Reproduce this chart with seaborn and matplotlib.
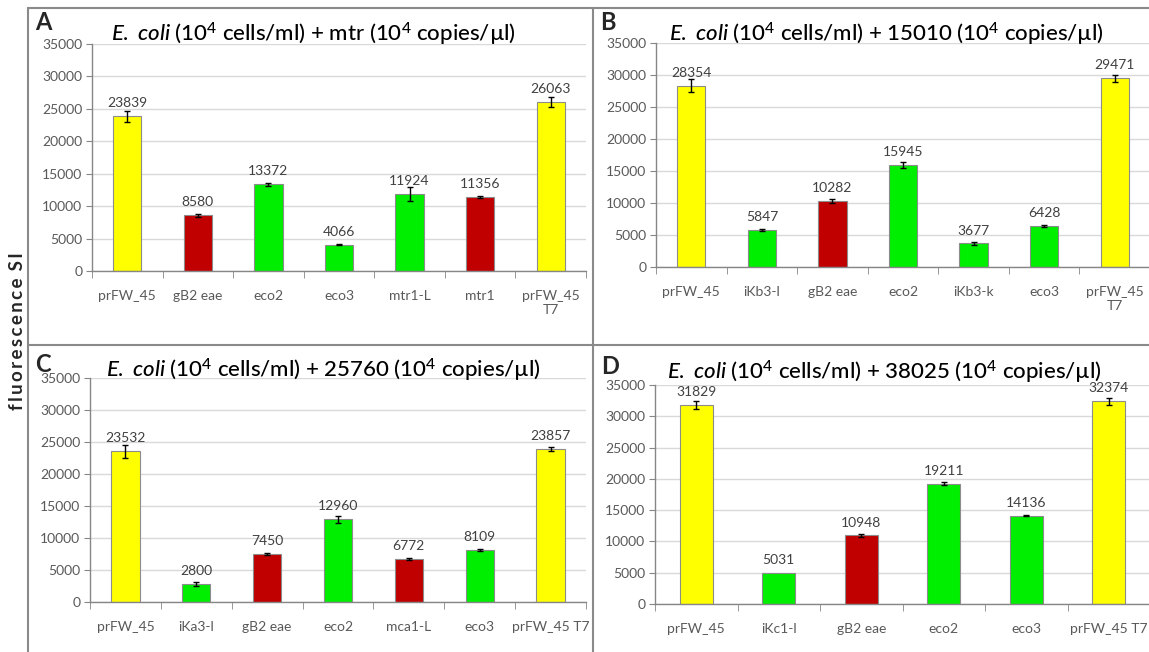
import numpy as np
import matplotlib
matplotlib.use("Agg")
import matplotlib.pyplot as plt
import seaborn as sns
from matplotlib.lines import Line2D
from matplotlib.container import BarContainer

# bar colours: yellow controls, green probes, red probes
COLORS = {"ctrl": "#ffff00", "green": "#00ee00", "red": "#c00000"}

# panel A: E. coli + mtr
a_labels = ["prFW_45", "gB2 eae", "eco2", "eco3", "mtr1-L", "mtr1", "prFW_45\nT7"]
a_values = [23839, 8580, 13372, 4066, 11924, 11356, 26063]
a_errors = [900, 250, 250, 80, 1100, 150, 700]
a_kinds = ["ctrl", "red", "green", "green", "green", "red", "ctrl"]

# panel B: E. coli + 15010
b_labels = ["prFW_45", "iKb3-l", "gB2 eae", "eco2", "iKb3-k", "eco3", "prFW_45\nT7"]
b_values = [28354, 5847, 10282, 15945, 3677, 6428, 29471]
b_errors = [1000, 150, 350, 450, 200, 150, 600]
b_kinds = ["ctrl", "green", "red", "green", "green", "green", "ctrl"]

# panel C: E. coli + 25760
c_labels = ["prFW_45", "iKa3-l", "gB2 eae", "eco2", "mca1-L", "eco3", "prFW_45 T7"]
c_values = [23532, 2800, 7450, 12960, 6772, 8109, 23857]
c_errors = [1000, 350, 150, 550, 150, 200, 300]
c_kinds = ["ctrl", "green", "red", "green", "red", "green", "ctrl"]

# panel D: E. coli + 38025
d_labels = ["prFW_45", "iKc1-l", "gB2 eae", "eco2", "eco3", "prFW_45 T7"]
d_values = [31829, 5031, 10948, 19211, 14136, 32374]
d_errors = [600, 0, 300, 250, 100, 600]
d_kinds = ["ctrl", "green", "red", "green", "green", "ctrl"]

titles = ["mtr", "15010", "25760", "38025"]
letters = ["A", "B", "C", "D"]

W, H = 1149, 652

sns.set_style("white")
plt.rcParams["font.family"] = ["Lato", "DejaVu Sans"]
plt.rcParams["mathtext.fontset"] = "custom"
plt.rcParams["mathtext.rm"] = "Lato:medium"
plt.rcParams["mathtext.it"] = "Lato:italic:medium"
plt.rcParams["mathtext.bf"] = "Lato:bold"

fig = plt.figure(figsize=(W / 100, H / 100), dpi=100)

# plot areas in pixels: left, right, top(35000), bottom(0)
boxes = [(92, 586, 44, 271), (656, 1150, 43, 267),
         (90, 586, 378, 602), (655, 1150, 385, 604)]
# title left edge and centre in pixels
title_pos = [(111, 34), (669, 34), (106, 370), (667, 372)]
letter_pos = [(35, 22), (600, 22), (35, 364), (601, 366)]

panels = [(a_labels, a_values, a_errors, a_kinds),
          (b_labels, b_values, b_errors, b_kinds),
          (c_labels, c_values, c_errors, c_kinds),
          (d_labels, d_values, d_errors, d_kinds)]

GRAY_TXT = "#595959"
AXIS_C = "#868686"

for i, (labels, values, errors, kinds) in enumerate(panels):
    l, r, t, b = boxes[i]
    ax = fig.add_axes([l / W, 1 - b / H, (r - l) / W, (b - t) / H])
    sns.barplot(x=labels, y=values, hue=kinds, order=labels, palette=COLORS,
                saturation=1, width=0.4, legend=False, edgecolor="#8c8c8c",
                linewidth=0.8, errorbar=None, ax=ax)
    for cont in ax.containers:
        if isinstance(cont, BarContainer):
            ax.bar_label(cont, fmt="%d", padding=5, fontsize=10, color="#404040")
    n = len(labels)
    pos = np.arange(n)
    err = np.array(errors, dtype=float)
    has = err > 0
    ax.errorbar(pos[has], np.array(values)[has], yerr=err[has], fmt="none",
                ecolor="black", elinewidth=1, capsize=2.5, capthick=1, zorder=5)

    ax.set_ylim(0, 35000)
    ax.set_xlim(-0.5, n - 0.5)
    ax.set_yticks(np.arange(0, 35001, 5000))
    ax.set_xticks(np.arange(-0.5, n, 1), minor=True)
    ax.tick_params(axis="y", labelsize=10, labelcolor=GRAY_TXT, length=4,
                   color=AXIS_C, left=True, pad=3)
    ax.tick_params(axis="x", which="major", labelsize=10, labelcolor=GRAY_TXT,
                   length=0, pad=14)
    ax.tick_params(axis="x", which="minor", length=5, color=AXIS_C, bottom=True)
    ax.yaxis.grid(True, color="#d9d9d9", linewidth=1)
    ax.set_axisbelow(True)
    for s in ["top", "right"]:
        ax.spines[s].set_visible(False)
    for s in ["left", "bottom"]:
        ax.spines[s].set_color(AXIS_C)
        ax.spines[s].set_linewidth(1)
    ax.set_xlabel("")
    ax.set_ylabel("")

    tx, ty = title_pos[i]
    fig.text(tx / W, 1 - ty / H,
             r"$\it{E.}$ $\it{coli}$ (10$^4$ cells/ml) + " + titles[i] + r" (10$^4$ copies/µl)",
             fontsize=16, fontweight="medium", ha="left", va="center", color="black")
    lx, ly = letter_pos[i]
    fig.text(lx / W, 1 - ly / H, letters[i], fontsize=17, fontweight="bold",
             ha="left", va="center")

# shared y label, letter spaced
fig.text(18 / W, 1 - 331 / H, "\u2009".join("fluorescence") + "\u2009\u2009\u2009S\u2009I",
         rotation=90, fontsize=13.5, fontweight="bold", ha="center", va="center")

# panel frame lines
frame = "#8a8a8a"
for x0, y0, x1, y1 in [(28, 8, W, 8), (28, 8, 28, H), (593, 8, 593, H), (28, 345, W, 345)]:
    fig.add_artist(Line2D([x0 / W, x1 / W], [1 - y0 / H, 1 - y1 / H],
                          color=frame, linewidth=1.5, transform=fig.transFigure))

fig.savefig("out.png", dpi=100)
